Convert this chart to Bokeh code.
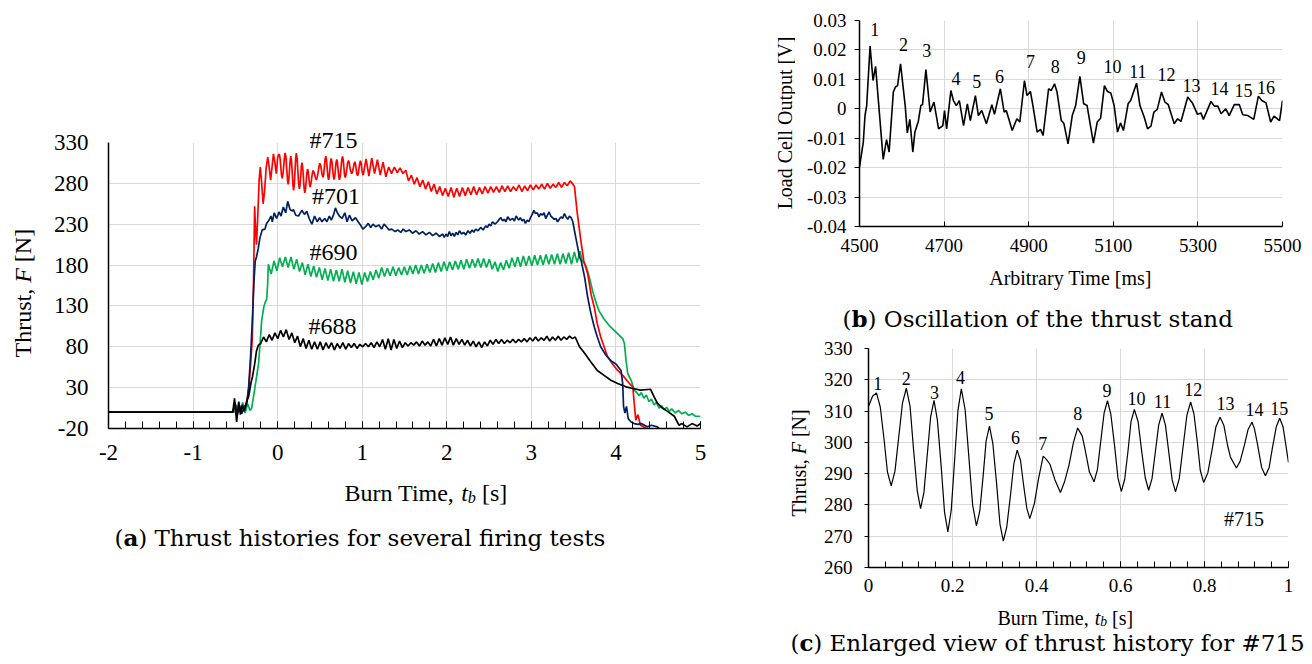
import numpy as np
from bokeh.plotting import figure
from bokeh.models import Range1d, Label, FixedTicker, CustomJSTickFormatter, Title
from bokeh.layouts import row, column
from bokeh.embed import file_html
from bokeh.resources import INLINE

SERIF = "Liberation Serif"
CAPF = "DejaVu Serif"
GRID = "#d9d9d9"

# ---------------- Panel (a): thrust histories ----------------
DT = 0.0335  # sampling step of the oscillating plateau readings [s]

# #715 (red)
t715_pre = [-2.0, -0.53, -0.505, -0.48, -0.455, -0.43, -0.40, -0.37, -0.345, -0.325, -0.30, -0.285,
            -0.272, -0.262, -0.25, -0.235, -0.218, -0.205, -0.19, -0.172, -0.155, -0.135, -0.117,
            -0.10, -0.083, -0.066, -0.050, -0.033, -0.016, -0.008]
f715_pre = [0, 0, 10, -5, 8, -2, 6, 10, 25, 50, 90, 160, 252, 225, 205, 240, 285, 300, 282, 255,
            270, 300, 312, 300, 284, 300, 316, 306, 292, 300]
T715_PLATEAU_START = 1.012
f715_plateau = [290, 310, 289, 311, 292, 309, 290, 306, 288, 300,
                292, 300, 293, 299, 292, 296, 283, 290, 279, 287,
                276, 284, 273, 282, 270, 279, 267, 276, 265, 274,
                264, 275, 263, 274, 264, 275, 265, 275, 266, 276,
                266, 275, 267, 276, 268, 276, 269, 276, 269, 277,
                270, 277, 270, 276, 271, 278, 270, 277, 271, 278,
                272, 278, 273, 279, 273, 280, 274, 279, 275, 281,
                275, 281, 277, 283, 279]
t715_tail = [3.51, 3.54, 3.58, 3.62, 3.667, 3.706, 3.745, 3.78, 3.82, 3.86, 3.90, 3.96, 4.02, 4.08,
             4.16, 4.20, 4.216, 4.235, 4.26, 4.29, 4.33, 4.37, 4.5, 5.0]
f715_tail = [276, 246, 214, 185, 169, 144, 128, 108, 92, 80, 68, 59, 51, 45, 35, 31, 11, -10, -3,
             -16, -18, -21, -24, -25]

# ---------------- Panel (c): #715 between 0 and 1 s ----------------
tc = [0.000, 0.010, 0.019, 0.028, 0.037, 0.045, 0.054, 0.063, 0.072, 0.081,
      0.090, 0.099, 0.107, 0.116, 0.124, 0.132, 0.140, 0.148, 0.156, 0.164,
      0.173, 0.181, 0.189, 0.197, 0.205, 0.213, 0.221, 0.230, 0.239, 0.248,
      0.257, 0.265, 0.273, 0.280, 0.288, 0.296, 0.305, 0.313, 0.321, 0.329,
      0.338, 0.346, 0.354, 0.362, 0.369, 0.377, 0.384, 0.395, 0.405, 0.416,
      0.424, 0.432, 0.444, 0.457, 0.467, 0.477, 0.488, 0.498, 0.509, 0.516,
      0.526, 0.537, 0.545, 0.553, 0.561, 0.569, 0.577, 0.586, 0.594, 0.602,
      0.610, 0.618, 0.625, 0.633, 0.642, 0.650, 0.659, 0.667, 0.675, 0.683,
      0.691, 0.699, 0.707, 0.715, 0.723, 0.731, 0.740, 0.749, 0.758, 0.767,
      0.775, 0.783, 0.790, 0.798, 0.808, 0.818, 0.827, 0.837, 0.846, 0.855,
      0.862, 0.876, 0.885, 0.895, 0.904, 0.913, 0.919, 0.926, 0.936, 0.945,
      0.954, 0.962, 0.971, 0.979, 0.987, 1.000]
fc = [311.5, 314.8, 315.8, 311.3, 301.0, 290.6, 286.1, 290.8, 301.7, 312.6,
      317.3, 311.5, 298.1, 284.6, 278.8, 284.0, 296.1, 308.2, 313.4, 307.1,
      292.4, 277.7, 271.4, 278.3, 294.3, 310.2, 317.1, 310.5, 295.2, 279.9,
      273.3, 278.1, 289.3, 300.4, 305.2, 299.7, 286.8, 273.9, 268.4, 272.8,
      283.0, 293.1, 297.5, 294.2, 286.6, 278.9, 275.6, 280.5, 288.5, 295.6,
      294.5, 293.0, 288.0, 284.0, 287.5, 292.5, 300.0, 304.6, 302.0, 297.5,
      290.5, 287.4, 291.3, 300.4, 309.4, 313.3, 309.0, 298.8, 288.6, 284.3,
      288.2, 297.4, 306.6, 310.5, 306.6, 297.6, 288.6, 284.7, 288.4, 297.0,
      305.6, 309.3, 305.5, 296.8, 288.0, 284.2, 288.5, 298.6, 308.6, 312.9,
      309.0, 300.0, 291.0, 287.2, 290.3, 297.6, 304.9, 308.0, 305.5, 299.0,
      295.2, 291.8, 294.0, 299.1, 304.2, 306.4, 304.3, 299.5, 292.0, 289.3,
      292.0, 298.5, 305.0, 307.7, 305.0, 293.6]
c_peak_x = [0.022, 0.090, 0.157, 0.219, 0.287, 0.350, 0.415, 0.498, 0.568, 0.638, 0.700, 0.773,
            0.850, 0.919, 0.978]
c_peak_y = [318.9, 320.3, 316.0, 320.6, 309.1, 301.4, 299.5, 309.1, 316.6, 314.1, 313.0, 316.8,
            312.3, 310.5, 310.9]

# #701 (navy)
t701 = [-2.0, -0.53, -0.504, -0.48, -0.453, -0.425, -0.394, -0.366, -0.343, -0.323, -0.30, -0.28,
        -0.265, -0.25, -0.23, -0.21, -0.183, -0.15, -0.131, -0.103, -0.079, -0.063, -0.04, -0.012,
        0.016, 0.04, 0.067, 0.095, 0.119, 0.147, 0.175, 0.187, 0.214, 0.246, 0.286, 0.317, 0.345,
        0.373, 0.405, 0.437, 0.468, 0.496, 0.524, 0.556, 0.583, 0.611, 0.635, 0.663, 0.683, 0.706,
        0.73, 0.762, 0.794, 0.821, 0.849, 0.881, 0.921, 0.952, 0.98, 1.008, 1.04, 1.071, 1.1, 1.127,
        1.159, 1.198, 1.23, 1.258, 1.286, 1.317, 1.349, 1.389, 1.42, 1.456, 1.484, 1.516, 1.556,
        1.595, 1.635, 1.675, 1.714, 1.754, 1.794, 1.833, 1.873, 1.913, 1.952, 1.97, 1.99, 2.01,
        2.03, 2.05, 2.07, 2.09, 2.11, 2.13, 2.15, 2.175, 2.2, 2.225, 2.25, 2.275, 2.30, 2.32, 2.34,
        2.37, 2.40, 2.43, 2.46, 2.48, 2.50, 2.52, 2.54, 2.57, 2.60, 2.62, 2.64, 2.66, 2.68, 2.70,
        2.72, 2.75, 2.78, 2.80, 2.82, 2.85, 2.87, 2.89, 2.91, 2.93, 2.95, 2.97, 2.99, 3.01, 3.03,
        3.05, 3.07, 3.09, 3.11, 3.13, 3.15, 3.17, 3.19, 3.21, 3.23, 3.25, 3.27, 3.29, 3.31, 3.33,
        3.35, 3.37, 3.39, 3.41, 3.43, 3.45, 3.47, 3.49, 3.51, 3.54, 3.57, 3.59, 3.63, 3.667, 3.706,
        3.745, 3.78, 3.82, 3.88, 3.94, 4.0, 4.06, 4.08, 4.09, 4.106, 4.125, 4.145, 4.18, 4.216,
        4.26, 4.3, 4.37, 4.42, 4.49, 4.53, 4.7, 5.0]
f701 = [0, 0, 12, -3, 9, -2, 6, 10, 31, 63, 110, 160,
        185, 190, 200, 213, 223, 224, 231, 235, 240, 233, 244, 237,
        245, 240, 251, 244, 258, 248, 246, 248, 241, 240, 247, 242, 246,
        237, 230, 240, 233, 238, 233, 237, 233, 240, 235, 242, 250, 244,
        240, 237, 244, 233, 241, 234, 238, 233, 229, 224, 227, 231, 226, 230,
        227, 229, 224, 230, 227, 223, 224, 221, 223, 220, 224, 221, 223,
        219, 222, 218, 221, 217, 220, 216, 219, 215, 218, 214, 218, 215,
        221, 216, 219, 215, 220, 217, 222, 218, 220, 217, 222, 219, 223, 220, 224,
        222, 226, 223, 228, 226, 230, 228, 233, 230, 233, 236, 238, 234, 236, 233,
        239, 235, 237, 234, 240, 235, 238, 234, 236, 231, 235, 233, 238, 242, 247,
        243, 244, 239, 243, 241, 244, 237, 241, 245, 240, 238, 236, 237, 233, 236,
        239, 237, 243, 239, 236, 240, 238, 233, 222, 206, 190, 185, 165, 140, 120,
        104, 92, 80, 70, 63, 59, 51, 35, 7, -1, 7, -8, -12, -14,
        -15, -14, -18, -16, -18, -22, -23, -24]

# #690 (green)
t690_pre = [-2.0, -0.51, -0.49, -0.465, -0.44, -0.414, -0.386, -0.355, -0.327, -0.307, -0.276,
            -0.248, -0.225, -0.20, -0.189, -0.165, -0.149, -0.13, -0.118]
f690_pre = [0, 0, 9, 4, 1, 12, -1, 10, 2, 5, 25, 44, 60, 95, 112, 128, 134, 138, 157]
T690_PLATEAU_START = -0.110
f690_plateau = [181, 169, 185, 173, 189, 178, 190, 177, 190, 175,
                187, 172, 183, 168, 181, 166, 179, 165, 177, 162,
                176, 161, 175, 160, 174, 160, 175, 159, 173, 158,
                172, 157, 171, 156, 171, 160, 172, 162, 174, 164,
                177, 166, 176, 167, 178, 167, 177, 168, 178, 168,
                179, 169, 180, 169, 180, 170, 181, 171, 182, 171,
                183, 172, 184, 173, 184, 174, 185, 175, 186, 175,
                187, 176, 187, 177, 188, 177, 188, 177, 187, 175,
                184, 172, 183, 174, 186, 176, 189, 178, 190, 178,
                191, 179, 191, 179, 192, 180, 192, 180, 193, 181,
                193, 181, 194, 181, 194, 182, 195, 181, 196, 183,
                197]
t690_tail = [3.60, 3.647, 3.686, 3.725, 3.765, 3.80, 3.86, 3.92, 3.98, 4.04,
             4.08, 4.10, 4.12, 4.14, 4.18, 4.216, 4.245, 4.275, 4.30, 4.33,
             4.36, 4.39, 4.42, 4.45, 4.48, 4.51, 4.54, 4.57, 4.60, 4.63,
             4.66, 4.70, 4.74, 4.78, 4.82, 4.86, 4.90, 4.94, 5.0]
f690_tail = [186, 179, 165, 148, 134, 124, 114, 106, 100, 94,
             90, 84, 63, 47, 39, 27, 24, 20, 24, 17,
             21, 13, 16, 9, 12, 5, 8, 3, 6, 1,
             4, -1, 2, -2, 0, -4, -2, -5, -5]

# #688 (black)
t688_pre = [-2.0, -0.53, -0.51, -0.485, -0.46, -0.44, -0.418, -0.394, -0.366, -0.343, -0.315,
            -0.296, -0.27, -0.25, -0.228]
f688_pre = [0, 0, 17, -12, 13, -3, 9, 1, 13, 19, 36, 44, 60, 75, 82]
T688_PLATEAU_START = -0.200
f688_plateau = [84, 92, 86, 95, 88, 97, 90, 100, 92, 101,
                89, 97, 85, 93, 80, 90, 78, 88, 77, 86,
                77, 86, 76, 85, 78, 85, 76, 84, 78, 85,
                77, 84, 79, 84, 78, 83, 80, 84, 80, 85,
                79, 86, 80, 89, 77, 90, 76, 89, 78, 87,
                79, 85, 81, 85, 82, 86, 81, 87, 82, 86,
                81, 89, 81, 90, 82, 91, 83, 92, 82, 90,
                83, 89, 82, 88, 81, 87, 80, 86, 79, 86,
                81, 88, 83, 89, 84, 89, 84, 88, 85, 89,
                85, 89, 86, 90, 86, 91, 87, 92, 87, 91,
                88, 93, 87, 92, 88, 93, 88, 92, 89, 93,
                90, 92]
t688_tail = [3.57, 3.63, 3.706, 3.78, 3.86, 3.94, 4.02, 4.12, 4.2, 4.29, 4.41, 4.45, 4.49, 4.55,
             4.61, 4.69, 4.745, 4.78, 4.84, 4.9, 4.96, 5.0]
f688_tail = [80, 72, 61, 51, 45, 39, 35, 31, 29, 27, 28, 19, 11, 5, 1, -5, -16, -14, -18, -14,
             -17, -14]

a_tests = ["#701", "#690", "#688"]
a_label_x = [0.69, 0.66, 0.65]
a_label_y = [265, 196, 106]

# ---------------- Panel (b): load-cell oscillation ----------------
tb = [4500, 4509, 4513, 4517, 4525, 4532, 4538, 4556, 4564, 4570,
      4580, 4585, 4590, 4597, 4608, 4613, 4619, 4626, 4631, 4639,
      4645, 4649, 4657, 4667, 4676, 4687, 4697, 4701, 4706, 4716,
      4722, 4729, 4736, 4746, 4755, 4762, 4774, 4781, 4789, 4800,
      4813, 4819, 4833, 4842, 4847, 4861, 4872, 4879, 4890, 4896,
      4904, 4910, 4920, 4928, 4934, 4947, 4953, 4961, 4967, 4977,
      4983, 4993, 5003, 5011, 5021, 5030, 5038, 5053, 5062, 5070,
      5079, 5086, 5094, 5102, 5110, 5117, 5124, 5135, 5141, 5155,
      5163, 5173, 5181, 5189, 5196, 5204, 5214, 5222, 5230, 5244,
      5252, 5260, 5276, 5287, 5299, 5307, 5313, 5331, 5339, 5347,
      5355, 5366, 5374, 5386, 5398, 5406, 5418, 5432, 5443, 5451,
      5461, 5472, 5480, 5493, 5500]
vb = [-0.0198, -0.0113, -0.0023, 0.0011, 0.0213, 0.0096, 0.0144, -0.0172, -0.0105, -0.0147,
      0.0057, 0.0074, 0.0079, 0.0153, 0.0011, -0.0082, -0.0036, -0.0147, -0.0079, -0.0043,
      0.0011, 0.0014, 0.0133, -0.0011, 0.0023, -0.0068, -0.0057, -0.0006, -0.0068, 0.0062,
      0.0028, 0.0011, 0.0028, -0.0057, 0.0017, -0.0040, 0.0045, -0.0023, -0.0006, -0.0051,
      0.0014, -0.0019, 0.0068, -0.0011, -0.0006, -0.0074, -0.0034, -0.0045, 0.0096, 0.0045,
      0.0059, 0.0011, -0.0079, -0.0070, -0.0091, 0.0068, 0.0062, 0.0085, 0.0057, -0.0040,
      -0.0049, -0.0119, -0.0023, 0.0011, 0.0110, 0.0017, 0.0011, -0.0117, -0.0045, -0.0032,
      0.0079, 0.0059, 0.0054, 0.0011, -0.0079, -0.0048, -0.0074, 0.0017, 0.0028, 0.0087,
      0.0011, -0.0028, -0.0068, -0.0059, -0.0011, -0.0002, 0.0057, 0.0023, 0.0014, -0.0051,
      -0.0034, -0.0043, 0.0040, 0.0020, -0.0019, -0.0014, -0.0036, 0.0025, 0.0009, 0.0009,
      -0.0017, 0.0000, -0.0023, 0.0014, 0.0014, -0.0020, -0.0023, -0.0036, 0.0043, 0.0028,
      0.0020, -0.0045, -0.0025, -0.0040, 0.0028]
b_peak_x = [4536, 4604, 4659, 4728, 4777, 4831, 4904, 4963, 5024, 5098, 5158, 5226, 5285, 5351,
            5408, 5461]
b_peak_y = [0.0270, 0.0218, 0.0198, 0.0104, 0.0093, 0.0110, 0.0159, 0.0144, 0.0174, 0.0142,
            0.0127, 0.0117, 0.0079, 0.0068, 0.0062, 0.0074]

# tick values
a_xticks = [-2, -1, 0, 1, 2, 3, 4, 5]
a_xminor = [round(-2 + 0.2 * i, 1) for i in range(36)]
a_yticks = [-20, 30, 80, 130, 180, 230, 280, 330]
b_xticks = [4500, 4700, 4900, 5100, 5300, 5500]
b_yticks = [-0.04, -0.03, -0.02, -0.01, 0, 0.01, 0.02, 0.03]
c_xticks = [0, 0.2, 0.4, 0.6, 0.8, 1]
c_xminor = [round(0.04 * i, 2) for i in range(26)]
c_yticks = [260, 270, 280, 290, 300, 310, 320, 330]


def plateau_times(start, values):
    return list(np.round(start + DT * np.arange(len(values)), 4))


t715 = t715_pre + tc + plateau_times(T715_PLATEAU_START, f715_plateau) + t715_tail
f715 = f715_pre + fc + f715_plateau + f715_tail
t690 = t690_pre + plateau_times(T690_PLATEAU_START, f690_plateau) + t690_tail
f690 = f690_pre + f690_plateau + f690_tail
t688 = t688_pre + plateau_times(T688_PLATEAU_START, f688_plateau) + t688_tail
f688 = f688_pre + f688_plateau + f688_tail


# ---------------- helpers ----------------
def no_align(p):
    try:
        p.frame_align = False
    except Exception:
        pass


def make_fig(w, h, xr, yr, borders):
    p = figure(width=w, height=h, x_range=Range1d(*xr), y_range=Range1d(*yr),
               output_backend="svg", toolbar_location=None,
               min_border_left=borders[0], min_border_right=borders[1],
               min_border_top=borders[2], min_border_bottom=borders[3])
    p.outline_line_color = None
    p.background_fill_color = "white"
    p.border_fill_color = "white"
    no_align(p)
    return p


def text_fig(w, h):
    p = figure(width=w, height=h, x_range=Range1d(0, w), y_range=Range1d(0, h),
               output_backend="svg", toolbar_location=None, min_border=0,
               min_border_left=0, min_border_right=0, min_border_top=0, min_border_bottom=0,
               x_axis_location=None, y_axis_location=None)
    p.outline_line_color = None
    p.grid.visible = False
    p.background_fill_color = "white"
    p.border_fill_color = "white"
    no_align(p)
    return p


def style_axes(p, xticks, yticks, size, xminor=None, x_in=0, y_out=0, xs=10, ys=10):
    fmt = CustomJSTickFormatter(code="return String(tick);")
    p.xaxis.ticker = FixedTicker(ticks=xticks, minor_ticks=xminor or [])
    p.yaxis.ticker = FixedTicker(ticks=yticks)
    p.xgrid.ticker = FixedTicker(ticks=xticks)
    p.ygrid.ticker = FixedTicker(ticks=yticks)
    for g in (p.xgrid, p.ygrid):
        g.grid_line_color = GRID
        g.grid_line_width = 1
    for ax in (p.xaxis, p.yaxis):
        ax.formatter = fmt
        ax.axis_line_color = "black"
        ax.axis_line_width = 1.5
        ax.major_tick_line_color = "black"
        ax.minor_tick_line_color = "black"
        ax.major_label_text_font = SERIF
        ax.major_label_text_font_size = f"{size}px"
        ax.major_label_text_color = "black"
        ax.axis_label = None
    p.xaxis.major_tick_in = x_in
    p.xaxis.major_tick_out = 0
    p.xaxis.minor_tick_in = x_in
    p.xaxis.minor_tick_out = 0
    p.yaxis.major_tick_in = 0
    p.yaxis.major_tick_out = y_out
    p.yaxis.minor_tick_in = 0
    p.yaxis.minor_tick_out = 0
    p.xaxis.major_label_standoff = xs
    p.yaxis.major_label_standoff = ys


def lab(p, text, x, y, size, font=SERIF, style="normal", angle=0.0, align="left",
        baseline="alphabetic"):
    p.add_layout(Label(x=x, y=y, text=text,
                       text_font=font, text_font_size=f"{size:.1f}px",
                       text_font_style=style, angle=angle, text_align=align,
                       text_baseline=baseline, text_color="black"))


def burn_time_label(p, x0, y0, size):
    lab(p, "Burn Time,", x0, y0, size)
    lab(p, "t", x0 + 4.861 * size, y0, size, style="italic")
    lab(p, "b", x0 + 5.139 * size, y0 - 0.22 * size, 0.68 * size, style="italic")
    lab(p, "[s]", x0 + 5.729 * size, y0, size)


def thrust_label(p, xc, y0, size):
    # rotated label; xc is the centre line of the text
    a = np.pi / 2
    lab(p, "Thrust,", xc, y0, size, angle=a, baseline="middle")
    lab(p, "F", xc, y0 + 3.111 * size, size, style="italic", angle=a, baseline="middle")
    lab(p, "[N]", xc, y0 + 3.972 * size, size, angle=a, baseline="middle")


def caption(p, x0, y0, letter, rest, bold_w, size=23):
    lab(p, "(", x0, y0, size, font=CAPF, baseline="middle")
    lab(p, letter, x0 + 0.39 * size, y0, size, font=CAPF, style="bold", baseline="middle")
    lab(p, ")" + rest, x0 + (0.39 + bold_w) * size, y0, size, font=CAPF, baseline="middle")


# ---------------- Panel (a) ----------------
pa = make_fig(710, 478, (-2, 5), (-20, 330), (58, 60, 142, 50))
style_axes(pa, a_xticks, a_yticks, 23, xminor=a_xminor, x_in=7, y_out=0, xs=16, ys=20)
pa.line(t690, f690, line_color="#00b050", line_width=1.7)
pa.line(t715, f715, line_color="#ff0000", line_width=1.7)
pa.line(t701, f701, line_color="#002060", line_width=1.7)
pa.line(t688, f688, line_color="black", line_width=1.7)
for name, lx, ly in zip(a_tests, a_label_x, a_label_y):
    pa.add_layout(Label(x=lx, y=ly, text=name, text_font=SERIF, text_font_size="24px",
                        text_align="center", text_baseline="middle", text_color="black"))
pa.add_layout(Title(text="#715", align="left", offset=201, standoff=-20,
                    text_font=SERIF, text_font_size="24px", text_font_style="normal",
                    text_color="black", vertical_align="bottom"), "above")

ya = text_fig(50, 478)
thrust_label(ya, 22, 121, 24)

xa = text_fig(760, 186)
burn_time_label(xa, 344, 172, 24)
caption(xa, 114, 127, "a", " Thrust histories for several firing tests", 0.64)

# ---------------- Panel (b) ----------------
pb = make_fig(517, 262, (4500, 5500), (-0.04, 0.03), (64, 30, 20, 36))
style_axes(pb, b_xticks, b_yticks, 19, x_in=5, y_out=5, xs=12, ys=8)
pb.line(tb, vb, line_color="black", line_width=1.6)
for i, (lx, ly) in enumerate(zip(b_peak_x, b_peak_y)):
    pb.add_layout(Label(x=lx, y=ly, text=str(i + 1), text_font=SERIF, text_font_size="18px",
                        text_align="center", text_baseline="middle", text_color="black"))

yb = text_fig(35, 262)
lab(yb, "Load Cell Output [V]", 24, 139.5, 20, angle=np.pi / 2, align="center",
    baseline="middle")

xb = text_fig(552, 70)
lab(xb, "Arbitrary Time [ms]", 310, 55, 20, align="center", baseline="middle")
caption(xb, 82, 14, "b", " Oscillation of the thrust stand", 0.70)

# ---------------- Panel (c) ----------------
pc = make_fig(497, 269, (0, 1), (260, 330), (53, 24, 16, 34))
style_axes(pc, c_xticks, c_yticks, 19, xminor=c_xminor, x_in=6, y_out=4, xs=11, ys=12)
pc.line(tc, fc, line_color="black", line_width=1.2)
for i, (lx, ly) in enumerate(zip(c_peak_x, c_peak_y)):
    pc.add_layout(Label(x=lx, y=ly, text=str(i + 1), text_font=SERIF, text_font_size="18px",
                        text_align="center", text_baseline="middle", text_color="black"))
pc.add_layout(Label(x=0.894, y=275.4, text="#715", text_font=SERIF, text_font_size="20px",
                    text_align="center", text_baseline="middle", text_color="black"))

yc = text_fig(55, 269)
thrust_label(yc, 38, 85, 20)

xc = text_fig(552, 63)
burn_time_label(xc, 237, 47, 20)
caption(xc, 30, 22, "c", " Enlarged view of thrust history for #715", 0.60)

left = column(row(ya, pa), xa)
right = column(row(yb, pb), xb, row(yc, pc), xc)
layout = row(left, right)
open("out.html", "w").write(file_html(layout, INLINE))
